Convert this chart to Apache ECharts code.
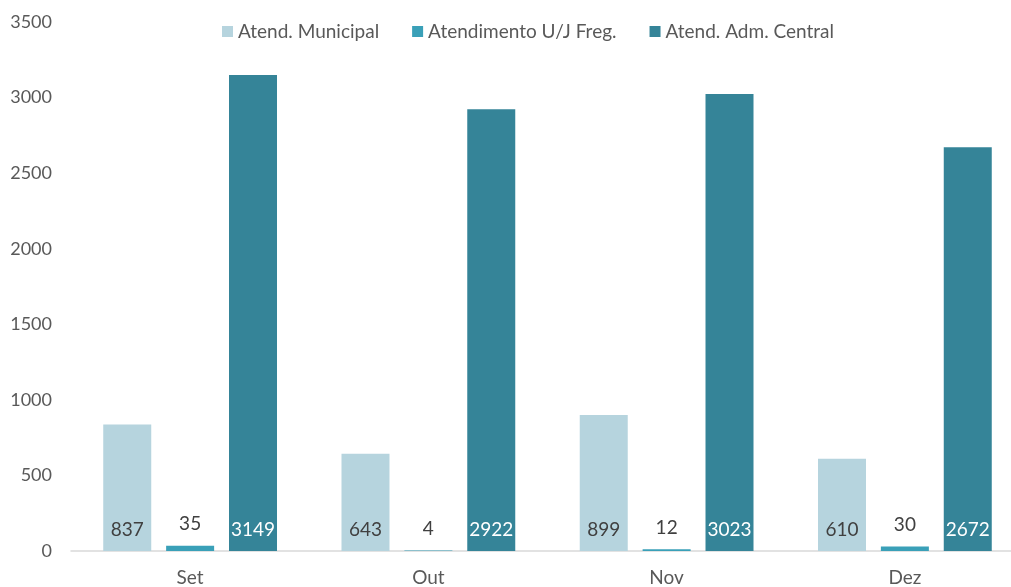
<!DOCTYPE html>
<html>
<head>
<meta charset="utf-8">
<script src="https://cdn.jsdelivr.net/npm/echarts@6/dist/echarts.min.js"></script>
<style>
  html, body { margin: 0; padding: 0; background: #fff; overflow: hidden; }
  /* the source image crops the plot area on the right, so the canvas is a bit wider than the window */
  #main { width: 1024px; height: 587px; }
</style>
</head>
<body>
<div id="main"></div>
<script>
var months = ['Set', 'Out', 'Nov', 'Dez'];
var municipal = [837, 643, 899, 610];
var freguesia = [35, 4, 12, 30];
var central = [3149, 2922, 3023, 2672];

var FONT = 'Lato';
var chart = echarts.init(document.getElementById('main'));

var option = {
  animation: false,
  textStyle: { fontFamily: FONT },
  legend: {
    top: 17,
    left: 217,
    itemWidth: 11,
    itemHeight: 11,
    itemGap: 33,
    icon: 'rect',
    textStyle: { fontFamily: FONT, fontSize: 19, color: '#595959' },
    data: ['Atend. Municipal', 'Atendimento U/J Freg.', 'Atend. Adm. Central']
  },
  grid: { left: 71, right: 0, top: 22, bottom: 35, containLabel: false },
  xAxis: {
    type: 'category',
    data: months,
    axisLine: { lineStyle: { color: '#d9d9d9', width: 1.5 } },
    axisTick: { show: false },
    axisLabel: { margin: 17, fontSize: 19, color: '#595959', fontFamily: FONT }
  },
  yAxis: {
    type: 'value',
    min: 0,
    max: 3500,
    interval: 500,
    splitLine: { show: false },
    axisLine: { show: false },
    axisTick: { show: false },
    axisLabel: {
      margin: 19, fontSize: 18, color: '#595959', fontFamily: FONT,
      formatter: function (v) { return String(v); }
    }
  },
  series: [
    {
      name: 'Atend. Municipal',
      type: 'bar',
      data: municipal,
      barWidth: 48,
      barGap: '31%',
      itemStyle: { color: '#b6d4de' },
      label: { show: true, position: 'insideBottom', distance: 12, fontSize: 19, color: '#404040', fontFamily: FONT }
    },
    {
      name: 'Atendimento U/J Freg.',
      type: 'bar',
      data: freguesia,
      barWidth: 48,
      barGap: '31%',
      itemStyle: { color: '#3aa0b8' },
      label: { show: true, position: 'top', distance: 12, fontSize: 19, color: '#404040', fontFamily: FONT }
    },
    {
      name: 'Atend. Adm. Central',
      type: 'bar',
      data: central,
      barWidth: 48,
      barGap: '31%',
      itemStyle: { color: '#358498' },
      label: { show: true, position: 'insideBottom', distance: 12, fontSize: 19, color: '#ffffff', fontFamily: FONT }
    }
  ]
};

chart.setOption(option);
</script>
</body>
</html>
